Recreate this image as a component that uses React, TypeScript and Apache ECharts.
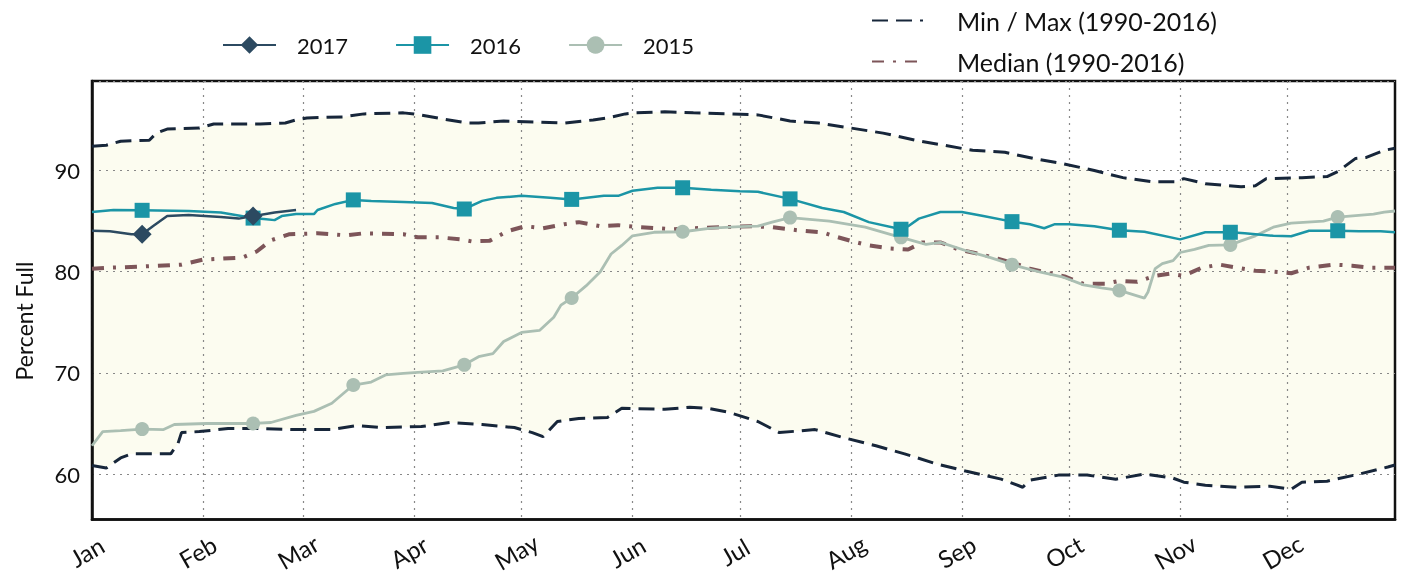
import React, { useEffect, useRef } from "react";
import * as echarts from "echarts";

const monthLabels = ["Jan", "Feb", "Mar", "Apr", "May", "Jun", "Jul", "Aug", "Sep", "Oct", "Nov", "Dec"];
const monthStarts = [0, 31, 59, 90, 120, 151, 181, 212, 243, 273, 304, 334];
const dayCount = 365;
const markerDays = [14, 45, 73, 104, 134, 165, 195, 226, 257, 287, 318, 348];
const yAxisTitle = "Percent Full";

const maxData: [number, number][] = [
  [0, 92.4], [4, 92.5], [8, 92.9], [16, 93.0], [18, 93.7], [21, 94.1], [30, 94.2], [34, 94.6], [47, 94.6],
  [54, 94.7], [57, 95.0], [60, 95.2], [70, 95.3], [76, 95.6], [87, 95.7], [90, 95.6], [98, 95.1], [105, 94.7],
  [108, 94.7], [115, 94.9], [124, 94.8], [132, 94.7], [140, 95.0], [144, 95.2], [149, 95.6], [152, 95.7],
  [160, 95.8], [168, 95.7], [178, 95.6], [186, 95.5], [195, 94.9], [203, 94.7], [212, 94.2], [221, 93.7],
  [230, 93.0], [238, 92.5], [246, 92.0], [255, 91.8], [263, 91.2], [271, 90.7], [280, 90.0], [288, 89.3],
  [296, 88.9], [303, 88.9], [305, 89.2], [311, 88.7], [321, 88.4], [325, 88.5], [328, 89.2], [338, 89.3],
  [345, 89.4], [348, 89.9], [353, 91.2], [356, 91.3], [361, 92.0], [364, 92.2],
];

const minData: [number, number][] = [
  [0, 60.85], [4, 60.6], [8, 61.6], [11, 62.0], [22, 62.0], [24, 63.0], [25, 64.1], [30, 64.2], [38, 64.5],
  [47, 64.5], [57, 64.4], [67, 64.4], [74, 64.8], [81, 64.6], [92, 64.7], [100, 65.1], [109, 64.9], [118, 64.6],
  [123, 64.1], [126, 63.7], [130, 65.2], [136, 65.5], [144, 65.6], [148, 66.5], [160, 66.4], [167, 66.6],
  [172, 66.5], [178, 66.1], [186, 65.2], [192, 64.1], [202, 64.4], [210, 63.6], [219, 62.8], [227, 62.0],
  [236, 61.0], [244, 60.3], [254, 59.5], [260, 58.7], [262, 59.4], [270, 59.9], [278, 59.9], [286, 59.5],
  [294, 60.0], [302, 59.6], [305, 59.2], [311, 58.9], [320, 58.7], [329, 58.8], [335, 58.5], [338, 59.2],
  [345, 59.3], [354, 60.0], [362, 60.7], [364, 60.9],
];

const medianData: [number, number][] = [
  [0, 80.3], [5, 80.4], [13, 80.5], [25, 80.7], [31, 81.2], [42, 81.4], [46, 82.0], [50, 83.1], [55, 83.7],
  [63, 83.8], [71, 83.6], [76, 83.8], [87, 83.7], [91, 83.4], [97, 83.4], [103, 83.2], [106, 83.0], [111, 83.05],
  [116, 84.0], [121, 84.5], [126, 84.3], [132, 84.7], [136, 84.9], [142, 84.5], [147, 84.6], [153, 84.4],
  [162, 84.2], [168, 84.3], [176, 84.4], [184, 84.5], [190, 84.4], [197, 84.1], [204, 83.9], [207, 83.55],
  [213, 82.95], [217, 82.6], [223, 82.3], [228, 82.2], [232, 82.9], [237, 82.9], [242, 82.2], [248, 81.75],
  [253, 81.3], [258, 80.8], [262, 80.3], [267, 79.9], [272, 79.5], [277, 78.8], [283, 78.8], [287, 79.1],
  [292, 79.0], [297, 79.6], [301, 79.8], [305, 79.6], [310, 80.4], [315, 80.7], [320, 80.4], [325, 80.1],
  [330, 80.0], [335, 79.85], [340, 80.4], [347, 80.7], [352, 80.6], [357, 80.4], [364, 80.4],
];

const data2016: [number, number][] = [
  [0, 85.9], [6, 86.1], [14, 86.07], [27, 86.0], [36, 85.85], [45, 85.3], [48, 85.2], [51, 85.1], [53, 85.5],
  [57, 85.7], [62, 85.7], [63, 86.1], [68, 86.7], [73, 87.1], [78, 87.0], [87, 86.9], [95, 86.8], [101, 86.3],
  [104, 86.2], [109, 87.0], [113, 87.3], [120, 87.5], [128, 87.3], [134, 87.15], [143, 87.5], [147, 87.5],
  [151, 88.0], [158, 88.3], [165, 88.3], [173, 88.1], [181, 87.95], [186, 87.9], [195, 87.2], [204, 86.3],
  [210, 85.9], [217, 84.9], [226, 84.2], [228, 84.5], [231, 85.25], [237, 85.9], [243, 85.9], [249, 85.5],
  [257, 84.95], [262, 84.7], [266, 84.3], [269, 84.7], [273, 84.7], [280, 84.5], [287, 84.1], [294, 83.95],
  [304, 83.2], [311, 83.9], [318, 83.9], [322, 83.8], [330, 83.55], [335, 83.5], [340, 84.05], [348, 84.05],
  [354, 84.0], [360, 84.0], [364, 83.9],
];

const data2017: [number, number][] = [
  [0, 84.05], [5, 84.0], [11, 83.7], [14, 83.7], [17, 84.5], [21, 85.5], [27, 85.6], [36, 85.4], [41, 85.25],
  [45, 85.5], [51, 85.85], [57, 86.1],
];

const data2015: [number, number][] = [
  [0, 62.8], [3, 64.2], [8, 64.3], [14, 64.45], [20, 64.4], [23, 64.9], [32, 65.0], [45, 65.0], [50, 65.1],
  [57, 65.8], [62, 66.2], [67, 67.0], [73, 68.8], [78, 69.1], [82, 69.8], [87, 69.95], [91, 70.05], [98, 70.2],
  [104, 70.8], [108, 71.6], [112, 71.9], [115, 73.1], [120, 74.0], [125, 74.2], [129, 75.5], [131, 76.7],
  [134, 77.4], [138, 78.6], [142, 80.0], [145, 81.75], [148, 82.6], [151, 83.55], [157, 83.9], [165, 83.95],
  [173, 84.3], [181, 84.45], [186, 84.5], [190, 84.9], [195, 85.35], [206, 85.0], [216, 84.4], [223, 83.7],
  [226, 83.4], [233, 82.7], [237, 82.9], [244, 82.1], [251, 81.4], [257, 80.7], [265, 79.95], [271, 79.5],
  [277, 78.7], [282, 78.4], [287, 78.15], [294, 77.4], [295, 78.0], [297, 80.3], [299, 80.8], [302, 81.1],
  [304, 81.9], [308, 82.2], [312, 82.6], [318, 82.65], [321, 83.05], [325, 83.55], [330, 84.4], [335, 84.8],
  [344, 85.0], [348, 85.4], [358, 85.7], [361, 85.9], [364, 86.0],
];

const FONT = "Lato, sans-serif";
const C2017 = "#2c4a61";
const C2016 = "#1b95a6";
const C2015 = "#abbfb3";
const CMINMAX = "#17263a";
const CMED = "#7d5559";
const CBAND = "#fcfcf0";

function withMarkers(d: [number, number][], days: number[]) {
  return d.map(([x, y]) => (days.includes(x) ? { value: [x, y] } : { value: [x, y], symbol: "none" }));
}

export default function App() {
  const ref = useRef<HTMLDivElement>(null);
  useEffect(() => {
    if (!ref.current) return;
    const chart = echarts.init(ref.current, null, { renderer: "svg" });
    const categories = Array.from({ length: dayCount }, (_, i) => String(i));
    const option: any = {
      animation: false,
      textStyle: { fontFamily: FONT },
      grid: { left: 92, right: 8, top: 81, bottom: 53, show: true, borderColor: "#111", borderWidth: 2.5, backgroundColor: "transparent" },
      graphic: [
        {
          type: "text",
          x: 24,
          y: 321,
          rotation: Math.PI / 2,
          style: {
            text: yAxisTitle,
            fontSize: 23,
            fontFamily: FONT,
            fill: "#111",
            textAlign: "center",
            textVerticalAlign: "middle",
          },
        },
      ],
      legend: [
        {
          data: ["2017", "2016", "2015"],
          left: 217,
          top: 29,
          itemWidth: 53,
          itemHeight: 22,
          itemGap: 47,
          textStyle: { fontFamily: FONT, fontSize: 22, color: "#111", padding: [0, 0, 0, 16] },
        },
        {
          data: [
            { name: "Min / Max (1990-2016)", itemStyle: { opacity: 0 } },
            { name: "Median (1990-2016)", itemStyle: { opacity: 0 } },
          ],
          orient: "vertical",
          left: 866,
          top: 3,
          itemWidth: 51,
          itemHeight: 22,
          itemGap: 16,
          textStyle: { fontFamily: FONT, fontSize: 25, color: "#111", padding: [0, 0, 0, 29] },
        },
      ],
      xAxis: {
        type: "category",
        data: categories,
        boundaryGap: false,
        axisLine: { show: true, lineStyle: { color: "#111", width: 2.5 } },
        axisTick: { show: false },
        axisLabel: {
          interval: (i: number) => monthStarts.includes(i),
          formatter: (_v: string, i: number) => monthLabels[monthStarts.indexOf(i)] ?? "",
          rotate: 30,
          align: "center",
          verticalAlign: "middle",
          margin: 29,
          padding: [0, 12, 0, 0],
          fontSize: 24,
          color: "#111",
          fontFamily: FONT,
        },
        splitLine: {
          show: true,
          interval: (i: number) => monthStarts.includes(i),
          lineStyle: { color: "#888", type: [2, 5], width: 1.2 },
        },
      },
      yAxis: {
        type: "value",
        min: 55.5,
        max: 98.85,
        splitNumber: 5,
        axisLine: { show: true, lineStyle: { color: "#111", width: 2.5 } },
        axisTick: { show: false },
        axisLabel: {
          formatter: (v: number) => (Math.abs(v % 10) < 1e-6 ? String(v) : ""),
          fontSize: 22,
          color: "#111",
          margin: 12,
          fontFamily: FONT,
        },
        splitLine: { show: true, lineStyle: { color: "#888", type: [2, 5], width: 1.2 } },
      },
      series: [
        {
          type: "custom",
          name: "band",
          silent: true,
          z: -1,
          data: [[0, 0]],
          renderItem: (_params: any, api: any) => {
            const top = maxData.map(([d, v]) => api.coord([d, v]));
            const bottom = minData.slice().reverse().map(([d, v]) => api.coord([d, v]));
            return {
              type: "polygon",
              shape: { points: top.concat(bottom) },
              style: { fill: CBAND, stroke: "none" },
            };
          },
        },
        {
          type: "line",
          name: "Min",
          data: minData,
          symbol: "none",
          silent: true,
          lineStyle: { color: CMINMAX, width: 3, type: [16, 8] },
          itemStyle: { color: CMINMAX },
        },
        {
          type: "line",
          name: "Min / Max (1990-2016)",
          data: maxData,
          symbol: "none",
          silent: true,
          lineStyle: { color: CMINMAX, width: 3, type: [16, 8] },
          itemStyle: { color: CMINMAX },
        },
        {
          type: "line",
          name: "Median (1990-2016)",
          data: medianData,
          symbol: "none",
          silent: true,
          lineStyle: { color: CMED, width: 4, type: [12, 9, 3, 9] },
          itemStyle: { color: CMED },
        },
        {
          type: "line",
          name: "2015",
          data: withMarkers(data2015, markerDays),
          symbol: "circle",
          symbolSize: 14,
          showAllSymbol: true,
          silent: true,
          lineStyle: { color: C2015, width: 2.8 },
          itemStyle: { color: C2015 },
        },
        {
          type: "line",
          name: "2016",
          data: withMarkers(data2016, markerDays),
          symbol: "rect",
          symbolSize: 15,
          showAllSymbol: true,
          silent: true,
          lineStyle: { color: C2016, width: 2.5 },
          itemStyle: { color: C2016 },
        },
        {
          type: "line",
          name: "2017",
          data: withMarkers(data2017, [14, 45]),
          symbol: "diamond",
          symbolSize: 19,
          showAllSymbol: true,
          silent: true,
          lineStyle: { color: C2017, width: 2.5 },
          itemStyle: { color: C2017 },
        },
      ],
    };
    chart.setOption(option);
    return () => chart.dispose();
  }, []);
  return <div ref={ref} style={{ position: "fixed", left: 0, top: 0, width: 1403, height: 575 }} />;
}
